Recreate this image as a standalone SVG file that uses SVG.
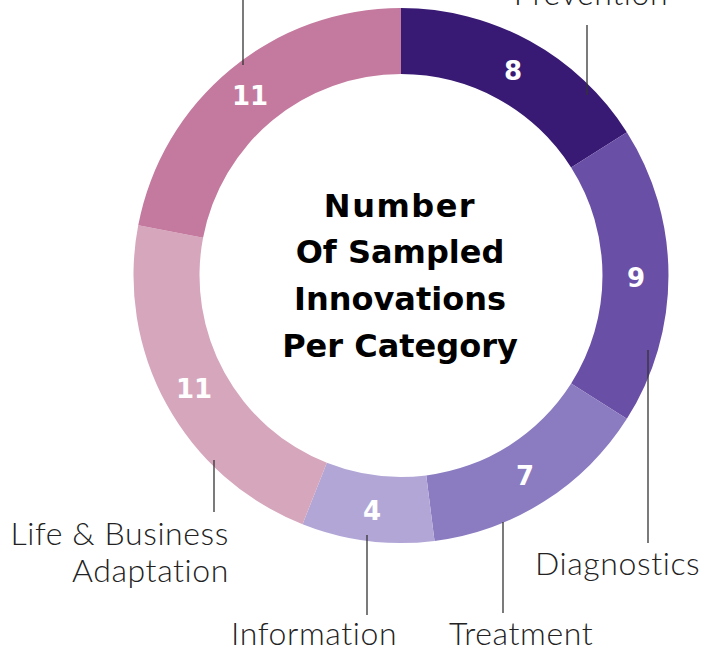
<svg xmlns="http://www.w3.org/2000/svg" width="722" height="652" viewBox="0 0 722 652">
<style>
.lbl{font-family:Lato,"Open Sans","Liberation Sans",sans-serif;font-weight:300;font-size:32px;letter-spacing:0.6px;fill:#222}
.num{font-family:"DejaVu Sans","Liberation Sans",sans-serif;font-weight:bold;font-size:26px;fill:#fff;text-anchor:middle}
.ttl{font-family:"DejaVu Sans","Liberation Sans",sans-serif;font-weight:bold;font-size:32px;fill:#000;text-anchor:middle}
.ln{stroke:#333;stroke-width:1.3;fill:none}
</style>
<rect width="722" height="652" fill="#fff"/>
<g id="prevention">
<path d="M401,8 A267.5,267.5 0 0 1 626.85,132.17 L571.13,167.54 A201.5,201.5 0 0 0 401,74 Z" fill="#381a74"/>
<text class="num" x="513" y="80">8</text>
<text class="lbl" x="591" y="5" text-anchor="middle">Prevention</text>
</g>
<g id="diagnostics">
<path d="M626.85,132.17 A267.5,267.5 0 0 1 626.85,418.83 L571.13,383.46 A201.5,201.5 0 0 0 571.13,167.54 Z" fill="#6a4fa6"/>
<text class="num" x="636" y="287">9</text>
<text class="lbl" x="535" y="575">Diagnostics</text>
</g>
<g id="treatment">
<path d="M626.85,418.83 A267.5,267.5 0 0 1 434.52,540.89 L426.25,475.41 A201.5,201.5 0 0 0 571.13,383.46 Z" fill="#8b7bc1"/>
<text class="num" x="525" y="485">7</text>
<text class="lbl" x="449" y="645">Treatment</text>
</g>
<g id="information">
<path d="M434.52,540.89 A267.5,267.5 0 0 1 302.53,524.22 L326.83,462.85 A201.5,201.5 0 0 0 426.25,475.41 Z" fill="#b2a6d7"/>
<text class="num" x="372" y="520">4</text>
<text class="lbl" x="231" y="645">Information</text>
</g>
<g id="life-business">
<path d="M302.53,524.22 A267.5,267.5 0 0 1 138.23,225.37 L203.07,237.74 A201.5,201.5 0 0 0 326.83,462.85 Z" fill="#d6a6bc"/>
<text class="num" x="194" y="398">11</text>
<text class="lbl" x="229" y="545" text-anchor="end">Life &amp; Business</text>
<text class="lbl" x="229" y="582" text-anchor="end">Adaptation</text>
</g>
<g id="top-left">
<path d="M138.23,225.37 A267.5,267.5 0 0 1 401,8 L401,74 A201.5,201.5 0 0 0 203.07,237.74 Z" fill="#c47a9e"/>
<text class="num" x="250" y="105">11</text>
</g>
<g id="title">
<text class="ttl" x="400" y="217" letter-spacing="1.5">Number</text>
<text class="ttl" x="400" y="263">Of Sampled</text>
<text class="ttl" x="400" y="310">Innovations</text>
<text class="ttl" x="400" y="357">Per Category</text>
</g>
<g id="connectors">
<line class="ln" x1="243" y1="0" x2="243" y2="65"/>
<line class="ln" x1="587" y1="25" x2="587" y2="95"/>
<line class="ln" x1="648" y1="350" x2="648" y2="543"/>
<line class="ln" x1="503" y1="522" x2="503" y2="613"/>
<line class="ln" x1="367" y1="535" x2="367" y2="615"/>
<line class="ln" x1="214" y1="460" x2="214" y2="512"/>
</g>
</svg>
